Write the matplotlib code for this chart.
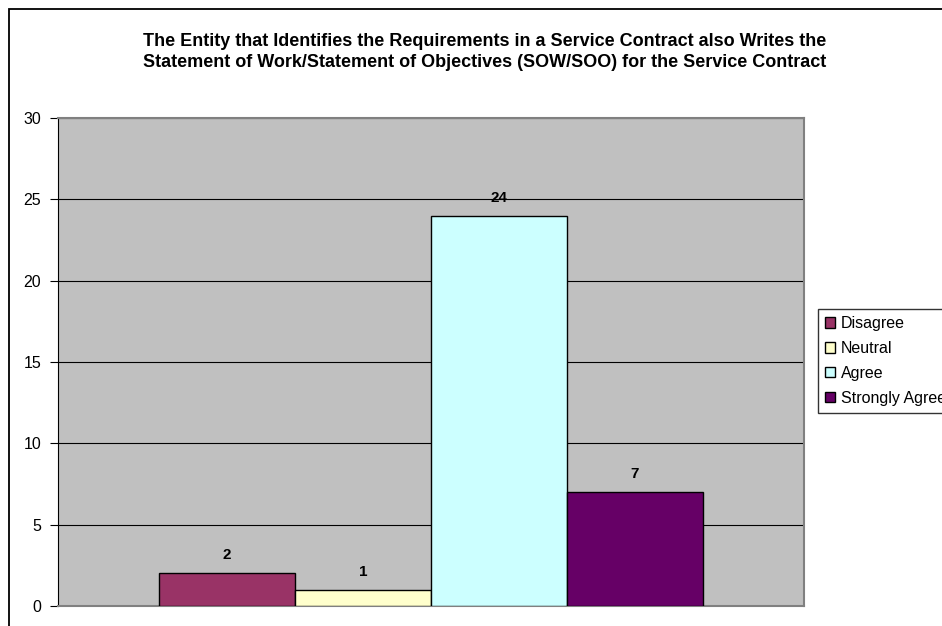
import matplotlib.pyplot as plt
from matplotlib.patches import Rectangle

plt.rcParams['font.family'] = ['Liberation Sans', 'DejaVu Sans']

title = ('The Entity that Identifies the Requirements in a Service Contract also Writes the\n'
         'Statement of Work/Statement of Objectives (SOW/SOO) for the Service Contract')
responses = ['Disagree', 'Neutral', 'Agree', 'Strongly Agree']
counts = [2, 1, 24, 7]
colors = ['#993366', '#FFFFCC', '#CCFFFF', '#660066']
yticks = [0, 5, 10, 15, 20, 25, 30]

W, H = 942, 626
fig = plt.figure(figsize=(W / 100, H / 100), dpi=100)

# chart frame
fig.patches.append(Rectangle((9 / W, -0.1), 1.2, 1 - 9 / H + 0.1, transform=fig.transFigure,
                             fill=False, edgecolor='black', linewidth=1.3, zorder=0))

ax = fig.add_axes([58 / W, 1 - 606 / H, (804 - 58) / W, (606 - 118) / H])
ax.set_facecolor('#C0C0C0')

positions = [-1.5, -0.5, 0.5, 1.5]
handles = []
for pos, lab, val, col in zip(positions, responses, counts, colors):
    b = ax.bar(pos, val, width=1.0, color=col, edgecolor='black', linewidth=1.0,
               label=lab, zorder=3)
    handles.append(b)
    ax.annotate(str(val), (pos, val), xytext=(0, 13), textcoords='offset points',
                ha='center', va='center', fontsize=11, fontweight='bold', zorder=4)

half = (804 - 58) / 136 / 2
ax.set_xlim(-half, half)
ax.set_ylim(0, 30)
ax.set_yticks(yticks)
ax.set_xticks([])
ax.yaxis.grid(True, color='black', linewidth=0.8, zorder=1)
ax.tick_params(axis='y', direction='out', length=6, width=0.8, labelsize=11.5, pad=6)
ax.spines['left'].set_color('black')
for s in ['top', 'right', 'bottom']:
    ax.spines[s].set_color('#808080')
    ax.spines[s].set_linewidth(1.5)

fig.text(485 / W, 1 - 52 / H, title, ha='center', va='center', fontsize=13,
         fontweight='bold', linespacing=1.3)

# legend box runs off the right edge, as in the original chart
fig.legend(handles=handles, labels=responses, loc='upper left',
           bbox_to_anchor=(818 / W, 1 - 309 / H), fontsize=11.5, frameon=True,
           fancybox=False, edgecolor='black', handlelength=0.6, handleheight=0.6,
           handletextpad=0.4, labelspacing=0.62, borderpad=0.45, borderaxespad=0)

fig.savefig('out.png', dpi=100)
